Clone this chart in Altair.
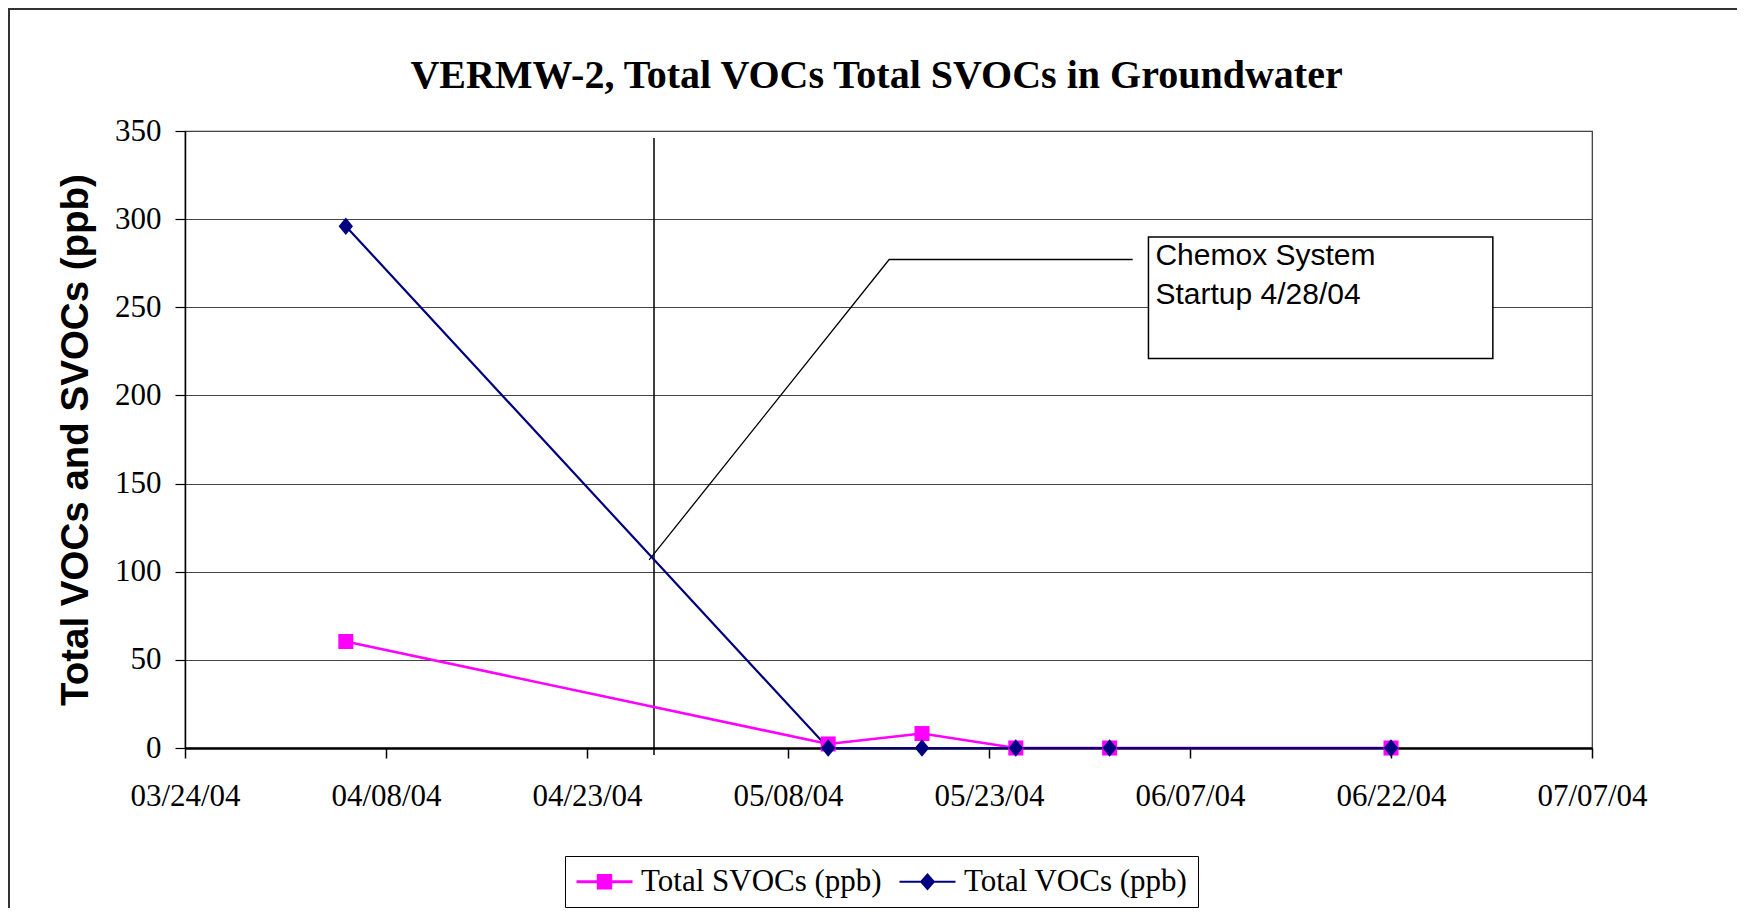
import altair as alt
import pandas as pd

# ---------------- data ----------------
dates = ["2004-04-05", "2004-05-11", "2004-05-18", "2004-05-25", "2004-06-01", "2004-06-22"]
svocs = [60.4, 2.3, 8.2, 0, 0, 0]
vocs = [296, 0, 0, 0, 0, 0]
series_names = ["Total SVOCs (ppb)", "Total VOCs (ppb)"]
series_colors = ["#FF00FF", "#000080"]

x_ticks = [(2004, 3, 24), (2004, 4, 8), (2004, 4, 23), (2004, 5, 8),
           (2004, 5, 23), (2004, 6, 7), (2004, 6, 22), (2004, 7, 7)]
y_ticks = [0, 50, 100, 150, 200, 250, 300, 350]

startup_date = ["2004-04-28"]
startup_top = [346]
startup_bottom = [-4]

callout_x = ["2004-04-27T15:22:00Z", "2004-05-15T13:12:00Z", "2004-06-02T17:17:00Z"]
callout_y = [106.7, 277.1, 277.1]

box_x1 = ["2004-06-03T21:36:00Z"]
box_x2 = ["2004-06-29T14:24:00Z"]
box_y1 = [289.9]
box_y2 = [221.0]

note_lines = ["Chemox System", "Startup 4/28/04"]
note_x = ["2004-06-04T10:05:00Z", "2004-06-04T10:05:00Z"]
note_y = [273.8, 251.6]

title_text = "VERMW-2, Total VOCs Total SVOCs in Groundwater"
y_title = "Total VOCs and SVOCs (ppb)"

# ---------------- tables ----------------
df_s = pd.DataFrame({"date": dates, "value": svocs})
df_v = pd.DataFrame({"date": dates, "value": vocs})
df_rule = pd.DataFrame({"date": startup_date, "value": startup_top, "value2": startup_bottom})
df_call = pd.DataFrame({"date": callout_x, "value": callout_y, "i": list(range(len(callout_x)))})
df_box = pd.DataFrame({"date": box_x1, "date2": box_x2, "value": box_y1, "value2": box_y2})
df_note = pd.DataFrame({"date": note_x, "value": note_y, "label": note_lines})
df_leg = pd.DataFrame({"date": ["2004-01-01"] * 2, "value": [100, 100], "series": series_names})
df_frame = pd.DataFrame({"k": [0]})

def dt(t):
    return alt.DateTime(year=t[0], month=t[1], date=t[2], utc=True)

xscale = alt.Scale(type="utc", domain=[dt(x_ticks[0]), dt(x_ticks[-1])], nice=False)
yscale = alt.Scale(domain=[0, 350], nice=False, zero=False)

xaxis = alt.Axis(
    values=[dt(t) for t in x_ticks], format="%m/%d/%y", title=None,
    labelFont="Liberation Serif", labelFontSize=31, labelColor="black",
    tickColor="black", tickSize=10, tickWidth=1.5, domainColor="black",
    domainWidth=2.5, labelPadding=23, grid=False, labelFlush=False,
    labelOverlap=False,
)
yaxis = alt.Axis(
    values=y_ticks, title=y_title, labelFont="Liberation Serif", labelFontSize=31,
    labelColor="black", tickColor="black", tickSize=10, tickWidth=1.2,
    domainColor="black", domainWidth=1.5, labelPadding=14, grid=True,
    gridColor="#444444", gridWidth=1, titleFont="Liberation Sans",
    titleFontWeight="bold", titleFontSize=38.5, titleColor="black",
    titleAngle=270, titleX=-110, titleY=308.5, titleAlign="center",
    titleBaseline="middle",
)

X = alt.X("date:T", scale=xscale, axis=xaxis)
Y = alt.Y("value:Q", scale=yscale, axis=yaxis)

frame = alt.Chart(df_frame).mark_rect(fill="transparent", stroke="#333333", strokeWidth=2).encode(
    x=alt.value(-176), x2=alt.value(1700), y=alt.value(-122), y2=alt.value(900)
)

rule = alt.Chart(df_rule).mark_rule(color="black", strokeWidth=1.5).encode(
    x=X, y=Y, y2="value2:Q"
)

call = alt.Chart(df_call).mark_line(color="black", strokeWidth=1.3).encode(
    x=X, y=Y, order="i:Q"
)

box = alt.Chart(df_box).mark_rect(fill="white", stroke="black", strokeWidth=1.5).encode(
    x=X, x2="date2:T", y=Y, y2="value2:Q"
)

note = alt.Chart(df_note).mark_text(
    align="left", baseline="alphabetic", font="Liberation Sans", fontSize=30, color="black"
).encode(x=X, y=Y, text="label:N")

diamond_path = "M0,-1.1L0.9,0L0,1.1L-0.9,0Z"

line_s = alt.Chart(df_s).mark_line(color=series_colors[0], strokeWidth=2.6).encode(x=X, y=Y)
pts_s = alt.Chart(df_s).mark_point(shape="square", filled=True, size=225, opacity=1,
                                   color=series_colors[0]).encode(x=X, y=Y)
line_v = alt.Chart(df_v).mark_line(color=series_colors[1], strokeWidth=2.2).encode(x=X, y=Y)
pts_v = alt.Chart(df_v).mark_point(shape=diamond_path, filled=True, size=256, opacity=1,
                                   color=series_colors[1]).encode(x=X, y=Y)

path_sq = "M-1,-0.1H3V0.1H-1Z M0.45,-0.55H1.55V0.55H0.45Z"
path_dm = "M-1,-0.08H3V0.08H-1Z M1,-0.62L1.55,0L1,0.62L0.45,0Z"

leg = alt.Legend(
    title=None, orient="none", legendX=380, legendY=725, direction="horizontal",
    columns=2, columnPadding=16, padding=10, strokeColor="black", fillColor="white",
    labelFont="Liberation Serif", labelFontSize=31, labelColor="black",
    labelLimit=600, labelOffset=35, symbolStrokeWidth=0, symbolOpacity=1,
    symbolSize=784,
)
legend_layer = alt.Chart(df_leg).mark_point(filled=True, size=784, opacity=1, clip=True).encode(
    x=X, y=Y,
    color=alt.Color("series:N", scale=alt.Scale(domain=series_names, range=series_colors), legend=leg),
    shape=alt.Shape("series:N", scale=alt.Scale(domain=series_names, range=[path_sq, path_dm]), legend=leg),
)

chart = alt.layer(
    frame, rule, call, box, note, line_s, line_v, pts_s, pts_v, legend_layer
).properties(
    width=1407, height=617,
    autosize=alt.AutoSizeParams(type="none"),
    padding={"left": 177, "top": 123, "right": 145, "bottom": 160},
    background="white",
    title=alt.Title(title_text, font="Liberation Serif", fontSize=40, fontWeight="bold",
                    color="black", anchor="middle", frame="group", dx=-12, offset=-128,
                    baseline="bottom"),
).configure_view(stroke="#333333", strokeWidth=1.2)

chart.save("out.html", embed_options={"renderer": "svg", "actions": False})
